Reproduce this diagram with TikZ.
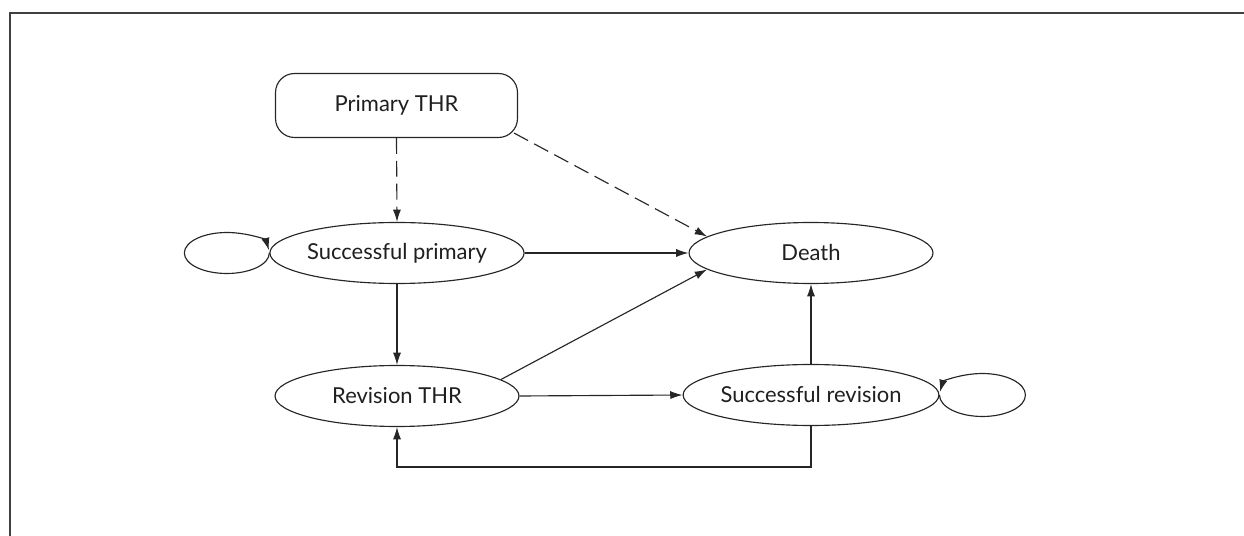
\documentclass[tikz,border=0pt]{standalone}
\usepackage{fontspec}
\setmainfont{Lato}
\usetikzlibrary{shapes.geometric,arrows.meta,calc}
\begin{document}
\begin{tikzpicture}[x=0.02cm,y=-0.02cm,
  every node/.style={font=\fontsize{12.5}{14}\selectfont, text=black!88},
  state/.style={ellipse, draw=black!85, line width=0.65pt, minimum width=4.88cm, minimum height=1.22cm, inner sep=0pt},
  startbox/.style={rectangle, rounded corners=0.38cm, draw=black!85, line width=0.65pt, minimum width=4.84cm, minimum height=1.28cm, inner sep=0pt},
  conn/.style={draw=black!85, line width=0.65pt, -{Latex[length=7pt,width=4.6pt]}},
  dashconn/.style={conn, dash pattern=on 9pt off 4pt},
  frameline/.style={draw=black!75, line width=0.8pt}
]
\useasboundingbox (0,0) rectangle (1244,536);
\coordinate (fr1) at (1244,13);
\coordinate (fr2) at (10,13);
\coordinate (fr3) at (10,536);
\draw[frameline] (fr1) -- (fr2) -- (fr3);

\node[startbox] (pt) at (396.5,105.5) {Primary THR};
\node[state] (sp) at (397,253) {Successful primary};
\node[state] (de) at (811,253) {Death};
\node[state] (rt) at (397,396) {Revision THR};
\node[state] (sr) at (811,395) {Successful revision};

\draw[dashconn] (pt.south) -- (sp.north);
\draw[dashconn] ($(pt.south east)+(-4,-5)$) -- (de.171);
\draw[conn] (sp.east) -- (de.west);
\draw[conn] (sp.south) -- (rt.north);
\draw[conn] (rt.9) -- (de.189);
\draw[conn] (rt.east) -- (sr.west);
\draw[conn] (sr.north) -- (de.south);
\draw[conn] (sr.south) -- ++(0,41) -| (rt.south);

% self loops
\draw[conn] (sp.west) arc[start angle=0, end angle=-352, x radius=0.85cm, y radius=0.41cm];
\draw[conn] (sr.east) arc[start angle=180, end angle=532, x radius=0.86cm, y radius=0.43cm];
\end{tikzpicture}
\end{document}
